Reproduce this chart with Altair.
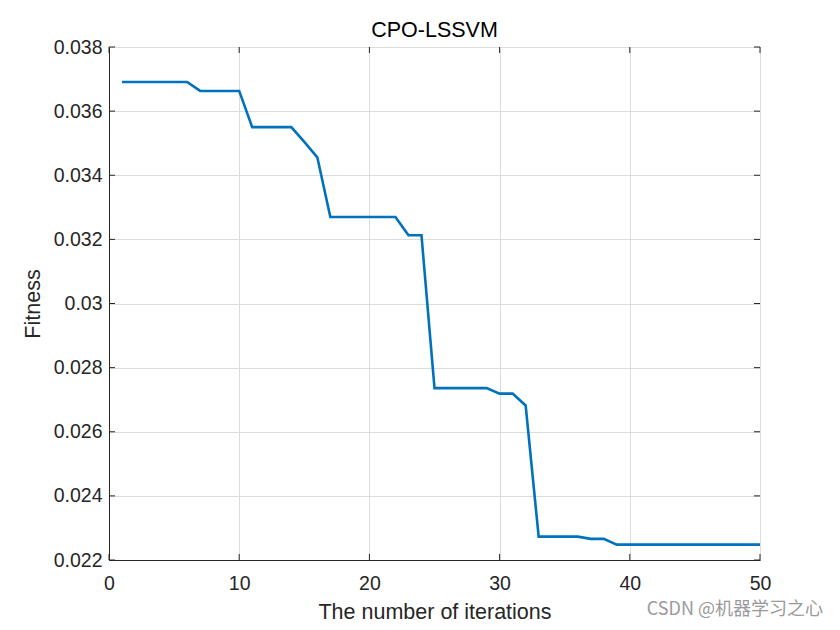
import altair as alt
import pandas as pd

iterations = list(range(1, 51))
fitness = [
    0.03691, 0.03691, 0.03691, 0.03691, 0.03691, 0.03691,
    0.03663, 0.03663, 0.03663, 0.03663,
    0.03550, 0.03550, 0.03550, 0.03550,
    0.03504, 0.03456,
    0.03270, 0.03270, 0.03270, 0.03270, 0.03270, 0.03270,
    0.03213, 0.03213,
    0.02736, 0.02736, 0.02736, 0.02736, 0.02736,
    0.02719, 0.02719,
    0.02682,
    0.02273, 0.02273, 0.02273, 0.02273,
    0.02266, 0.02266,
    0.02248, 0.02248, 0.02248, 0.02248, 0.02248, 0.02248,
    0.02248, 0.02248, 0.02248, 0.02248, 0.02248, 0.02248,
]
x_ticks = [0, 10, 20, 30, 40, 50]
y_ticks = [0.022, 0.024, 0.026, 0.028, 0.030, 0.032, 0.034, 0.036, 0.038]

title_text = "CPO-LSSVM"
x_title = "The number of iterations"
y_title = "Fitness"
watermark = "CSDN @机器学习之心"

W, H = 651, 513
FONT = "Liberation Sans"
DARK = "#262626"

df = pd.DataFrame({"iter": iterations, "fit": fitness})
dfx = pd.DataFrame({"t": x_ticks})
dfy = pd.DataFrame({"t": y_ticks})

xs = alt.Scale(domain=[0, 50], nice=False, zero=False)
ys = alt.Scale(domain=[0.022, 0.038], nice=False, zero=False)

line = alt.Chart(df).mark_line(color="#0072BD", strokeWidth=2.6).encode(
    x=alt.X("iter:Q", scale=xs,
            axis=alt.Axis(values=x_ticks, title=x_title, tickSize=0, labelPadding=14,
                          titlePadding=9, labelFontSize=19.5, titleFontSize=21.5,
                          labelFont=FONT, titleFont=FONT, labelColor=DARK,
                          titleColor=DARK, titleFontWeight="normal",
                          gridColor="#dcdcdc", domainColor=DARK, labelFlush=False)),
    y=alt.Y("fit:Q", scale=ys,
            axis=alt.Axis(values=y_ticks, title=y_title, tickSize=0, labelPadding=7,
                          titlePadding=9, labelFontSize=19.5, titleFontSize=21.5,
                          labelFont=FONT, titleFont=FONT, labelColor=DARK,
                          titleColor=DARK, titleFontWeight="normal",
                          format=".3~f", gridColor="#dcdcdc", domainColor=DARK,
                          labelFlush=False)),
)

tick_len = 6
xb = alt.Chart(dfx).mark_rule(color=DARK, strokeWidth=1).encode(
    x=alt.X("t:Q", scale=xs), y=alt.value(H), y2=alt.value(H - tick_len))
xt = alt.Chart(dfx).mark_rule(color=DARK, strokeWidth=1).encode(
    x=alt.X("t:Q", scale=xs), y=alt.value(0), y2=alt.value(tick_len))
yl = alt.Chart(dfy).mark_rule(color=DARK, strokeWidth=1).encode(
    y=alt.Y("t:Q", scale=ys), x=alt.value(0), x2=alt.value(tick_len))
yr = alt.Chart(dfy).mark_rule(color=DARK, strokeWidth=1).encode(
    y=alt.Y("t:Q", scale=ys), x=alt.value(W), x2=alt.value(W - tick_len))

wm = alt.Chart(pd.DataFrame({"s": [watermark]})).mark_text(
    align="right", baseline="middle", font="Noto Sans CJK SC", fontSize=18,
    color="#9a9a9a").encode(text="s:N", x=alt.value(W + 63), y=alt.value(H + 50))

chart = alt.layer(line, xb, xt, yl, yr, wm).properties(
    width=W, height=H,
    title=alt.TitleParams(title_text, font=FONT, fontSize=21.5, fontWeight="normal",
                          color="#000000", offset=8, dy=12),
    autosize=alt.AutoSizeParams(type="none"),
    padding={"left": 101, "top": 39, "right": 72, "bottom": 70},
).configure_view(stroke=DARK, strokeWidth=1).configure(background="white")

chart.save("out.html", embed_options={"renderer": "svg", "actions": False})
